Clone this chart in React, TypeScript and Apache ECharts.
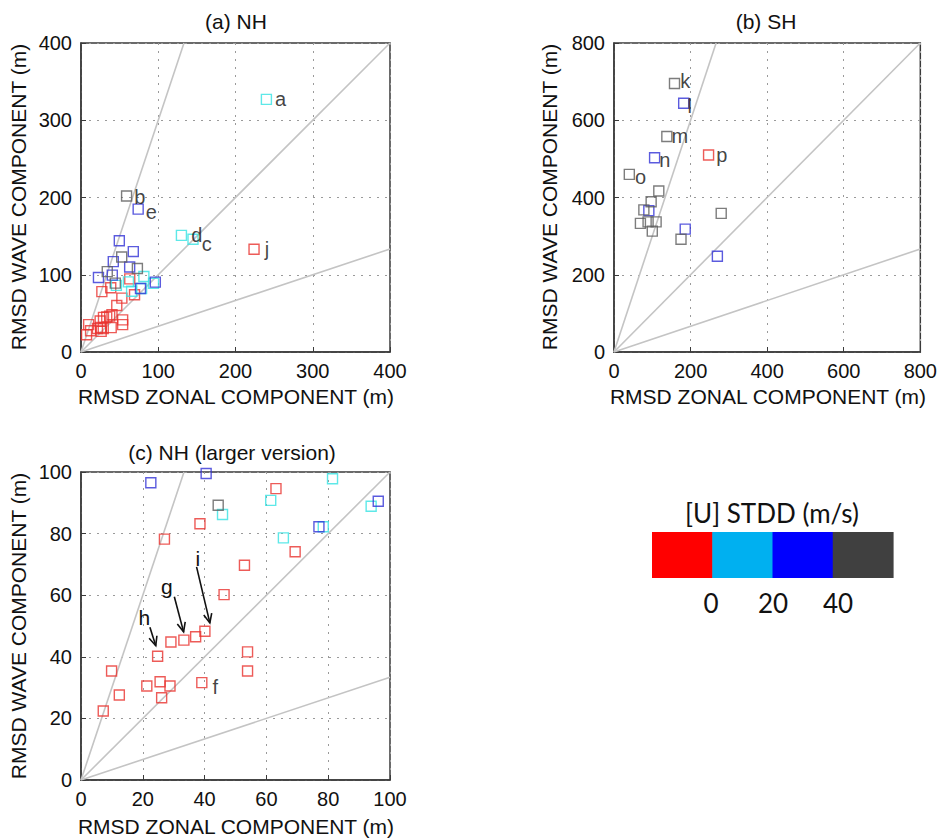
import React, { useEffect, useRef } from "react";
import * as echarts from "echarts";

// ---------- DATA ----------
// Northern Hemisphere points [x = zonal RMSD, y = wave RMSD, optional label]
const nhRed: any[] = [
  [7.2, 22.4], [9.9, 35.4], [12.4, 27.6], [21.3, 30.5], [24.8, 40.2], [25.6, 31.9],
  [26.1, 26.7], [28.8, 30.5], [29.1, 44.8], [33.3, 45.4], [37.1, 46.5], [40.1, 48.3],
  [39.1, 31.6, "f"], [27.0, 78.2], [38.5, 83.2], [46.3, 60.2], [52.9, 69.7], [53.9, 41.6],
  [53.9, 35.4], [63.1, 94.6], [69.3, 74.1], [224, 133, "j"],
];
const nhCyan: any[] = [
  [45.8, 86.2], [61.4, 90.8], [65.5, 78.6], [78.4, 82.2], [81.4, 97.8], [93.9, 88.9],
  [130, 151, "d"], [145, 146, "c"], [240, 327, "a"],
];
const nhBlue: any[] = [
  [22.6, 96.5], [40.5, 99.5], [77.0, 82.2], [96.2, 90.5], [41.8, 117], [49.6, 144],
  [67.7, 130], [63, 110], [74, 185, "e"],
];
const nhGray: any[] = [
  [44.4, 89.2], [52.7, 123], [73, 108], [34, 104], [59, 202, "b"],
];

// Southern Hemisphere points
const shRed: any[] = [[247, 510, "p"]];
const shBlue: any[] = [
  [182, 644, "l"], [106, 503, "n"], [91, 366], [186, 318], [270, 248],
];
const shGray: any[] = [
  [158, 695, "k"], [138, 558, "m"], [40, 460, "o"], [117, 417], [97, 389], [78, 368],
  [69, 333], [89, 337], [110, 337], [100, 313], [175, 292], [280, 359],
];

// Arrows in panel (c)
const arrowText = ["h", "g", "i"];
const arrowTextAt = [[20.5, 52.8], [27.8, 62.7], [37.8, 71.9]];
const arrowStart = [[22.3, 49.6], [30.2, 59.5], [37.4, 69.2]];
const arrowEnd = [[24.2, 43.6], [33.2, 48.1], [41.7, 51.0]];

// ratio lines  y = r * x
const ratios = [3, 1, 1 / 3];

// axes
const axisMax = [400, 800, 100];
const axisInterval = [100, 200, 20];
const titles = ["(a) NH", "(b) SH", "(c) NH (larger version)"];
const xName = "RMSD ZONAL COMPONENT (m)";
const yName = "RMSD WAVE COMPONENT (m)";
const zoomOnlyLabels = ["f"];

// legend (colour bar)
const legendTitle = "[U] STDD (m/s)";
const legendColors = ["#ff0000", "#00b0f0", "#0000ff", "#404040"];
const legendTicks = ["0", "20", "40"];

// ---------- STYLE ----------
const FONT = "'Liberation Sans', Arial, Helvetica, sans-serif";
const LFONT = "Lato, 'Open Sans', sans-serif";
const markerColor: Record<string, string> = {
  red: "#e8322e",
  cyan: "#36e2e2",
  blue: "#3232d6",
  gray: "#5c5c5c",
};
const labelOffset: Record<string, [number, number]> = {
  a: [3, 0], b: [2, 1], c: [3, 5], d: [4, 0], e: [2, 3], j: [5, 0],
  k: [0, -3], l: [-2, 3], m: [-1, 0], n: [-1, 2], o: [0, 3], p: [2, 0], f: [5, 4],
};

const grids = [
  { left: 81, top: 43, width: 309, height: 309 },
  { left: 614, top: 43, width: 309, height: 309 },
  { left: 81, top: 472, width: 309, height: 308 },
];

function buildOption() {
  const panelGroups = [
    [["red", nhRed], ["cyan", nhCyan], ["blue", nhBlue], ["gray", nhGray]],
    [["red", shRed], ["blue", shBlue], ["gray", shGray]],
    [["red", nhRed], ["cyan", nhCyan], ["blue", nhBlue], ["gray", nhGray]],
  ];
  const series: any[] = [];
  grids.forEach((_, gi) => {
    const max = axisMax[gi];
    ratios.forEach((r) => {
      series.push({
        type: "line",
        xAxisIndex: gi,
        yAxisIndex: gi,
        data: [[0, 0], [Math.min(max, max / r), Math.min(max, max * r)]],
        showSymbol: false,
        symbol: "none",
        lineStyle: { color: "#c4c4c4", width: 1.6 },
        silent: true,
        z: 2,
      });
    });
    (panelGroups[gi] as any[]).forEach(([cname, pts]: [string, any[]]) => {
      series.push({
        type: "scatter",
        xAxisIndex: gi,
        yAxisIndex: gi,
        symbol: "rect",
        symbolSize: 10,
        itemStyle: {
          color: "rgba(0,0,0,0)",
          borderColor: markerColor[cname],
          borderWidth: 1.4,
        },
        z: 3,
        data: pts.map((p: any[]) => {
          const lab = p[2];
          const show = lab && (gi === 2 ? zoomOnlyLabels.includes(lab) : !zoomOnlyLabels.includes(lab));
          const item: any = { value: [p[0], p[1]] };
          if (show) {
            item.label = {
              show: true,
              formatter: lab,
              position: "right",
              distance: 0,
              offset: labelOffset[lab] || [0, 0],
              fontSize: 20,
              lineHeight: 20,
              color: "#111",
              fontFamily: FONT,
            };
          }
          return item;
        }),
      });
    });
  });

  series.push({
    type: "custom",
    xAxisIndex: 2,
    yAxisIndex: 2,
    coordinateSystem: "cartesian2d",
    silent: true,
    clip: false,
    z: 5,
    encode: { x: [0, 2, 4], y: [1, 3, 5] },
    data: arrowStart.map((s, i) => [s[0], s[1], arrowEnd[i][0], arrowEnd[i][1], arrowTextAt[i][0], arrowTextAt[i][1]]),
    renderItem: (params: any, api: any) => {
      const a = api.coord([api.value(0), api.value(1)]);
      const b = api.coord([api.value(2), api.value(3)]);
      const t = api.coord([api.value(4), api.value(5)]);
      const ang = Math.atan2(b[1] - a[1], b[0] - a[0]);
      const L = 10;
      const w = 0.42;
      const h1 = [b[0] - L * Math.cos(ang - w), b[1] - L * Math.sin(ang - w)];
      const h2 = [b[0] - L * Math.cos(ang + w), b[1] - L * Math.sin(ang + w)];
      return {
        type: "group",
        children: [
          { type: "line", shape: { x1: a[0], y1: a[1], x2: b[0], y2: b[1] }, style: { stroke: "#111", lineWidth: 1.6 } },
          { type: "polyline", shape: { points: [h1, b, h2] }, style: { stroke: "#111", lineWidth: 1.6, fill: null } },
          {
            type: "text",
            x: t[0],
            y: t[1],
            style: {
              text: arrowText[params.dataIndex],
              fontSize: 21,
              fill: "#111",
              align: "center",
              verticalAlign: "middle",
              fontFamily: FONT,
            },
          },
        ],
      };
    },
  });

  const mkAxis = (gi: number) => ({
    gridIndex: gi,
    type: "value",
    min: 0,
    max: axisMax[gi],
    interval: axisInterval[gi],
    axisLine: { show: true, lineStyle: { color: "#3a3a3a", width: 1.5 } },
    axisTick: { show: true, inside: true, length: 5, lineStyle: { color: "#3a3a3a" } },
    axisLabel: { fontSize: 20, color: "#111", fontFamily: FONT, margin: 9 },
    splitLine: { show: true, lineStyle: { color: "#9a9a9a", type: [2, 6], width: 1 } },
  });

  const graphic: any[] = [];
  const titlePos = [[236, 21], [766, 21], [232, 452]];
  titles.forEach((t, i) => {
    graphic.push({
      type: "text", x: titlePos[i][0], y: titlePos[i][1],
      style: { text: t, fontSize: 21, fill: "#111", fontFamily: FONT, align: "center", verticalAlign: "middle" },
    });
  });
  const xNamePos = [[236, 396], [768, 396], [236, 826]];
  const yNamePos = [[18, 197], [549, 197], [18, 626]];
  grids.forEach((_, i) => {
    graphic.push({
      type: "text", x: xNamePos[i][0], y: xNamePos[i][1],
      style: { text: xName, fontSize: 21, fill: "#111", fontFamily: FONT, align: "center", verticalAlign: "middle" },
    });
    graphic.push({
      type: "text", x: yNamePos[i][0], y: yNamePos[i][1], rotation: Math.PI / 2,
      style: { text: yName, fontSize: 21, fill: "#111", fontFamily: FONT, align: "center", verticalAlign: "middle" },
    });
  });
  // colour bar legend
  const barX = 652, barY = 532, segW = 60.25, barH = 46;
  legendColors.forEach((c, i) => {
    graphic.push({
      type: "rect",
      shape: { x: barX + i * segW, y: barY, width: segW + 0.6, height: barH },
      style: { fill: c },
    });
  });
  graphic.push({
    type: "text", x: 772, y: 513,
    style: { text: legendTitle, fontSize: 26, fill: "#111", fontFamily: LFONT, align: "center", verticalAlign: "middle" },
  });
  const tickX = [711, 773, 838];
  legendTicks.forEach((t, i) => {
    graphic.push({
      type: "text", x: tickX[i], y: 603,
      style: { text: t, fontSize: 26, fill: "#111", fontFamily: LFONT, align: "center", verticalAlign: "middle" },
    });
  });

  return {
    animation: false,
    backgroundColor: "#ffffff",
    grid: grids.map((g) => ({ ...g, show: true, borderColor: "#3a3a3a", borderWidth: 1.5, backgroundColor: "#fff" })),
    xAxis: grids.map((_, i) => mkAxis(i)),
    yAxis: grids.map((_, i) => mkAxis(i)),
    series,
    graphic,
  };
}

export default function App() {
  const ref = useRef<HTMLDivElement>(null);
  useEffect(() => {
    document.body.style.margin = "0";
    if (!ref.current) return;
    const chart = echarts.init(ref.current, null, { renderer: "svg" });
    chart.setOption(buildOption() as any);
    return () => chart.dispose();
  }, []);
  return <div ref={ref} style={{ width: 940, height: 840, background: "#fff" }} />;
}
